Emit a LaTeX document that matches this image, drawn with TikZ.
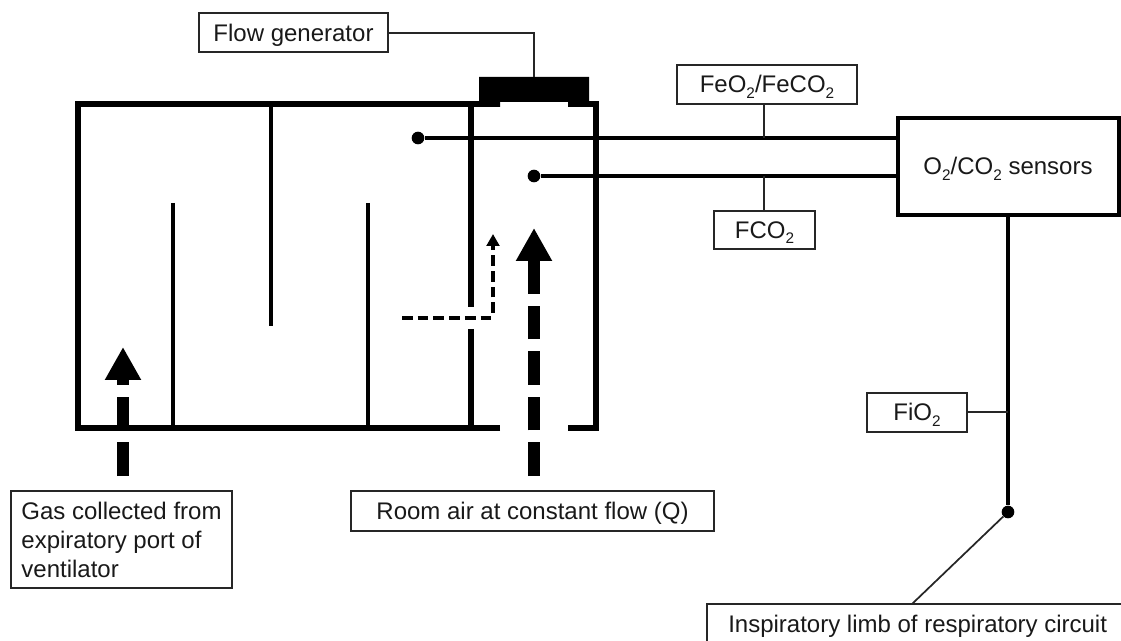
\documentclass[tikz,border=0pt]{standalone}
\usepackage{fontspec}
\setmainfont{Liberation Sans}
\usetikzlibrary{arrows.meta}
\newcommand{\lowtwo}{\raisebox{-0.22em}{\fontsize{11.5}{12}\selectfont 2}}
\tikzset{
  labelbox/.style={draw=black!85,line width=1.5pt,inner sep=0pt,outer sep=0pt,anchor=north west,align=center,
    font=\fontsize{18}{21.75}\selectfont,text=black!90,text height=15pt,text depth=2.55pt},
  wall/.style={line width=4.2pt},
  baffle/.style={line width=3pt},
  sensorline/.style={line width=2.6pt},
  thinlink/.style={line width=1.3pt,draw=black!85},
  dotnode/.style={circle,fill=black,inner sep=0pt,minimum size=9.5pt},
  bigflow/.style={line width=8.8pt,dash pattern=on 25.2pt off 9pt},
  smallflow/.style={line width=3pt,dash pattern=on 8pt off 3.8pt},
}
\begin{document}
\begin{tikzpicture}[x=0.75pt,y=-0.75pt]
\useasboundingbox (0,0) rectangle (1121,641);
% chamber corners
\coordinate (tl) at (78,104);
\coordinate (tr) at (596,104);
\coordinate (bl) at (78,428);
\coordinate (br) at (596,428);
\coordinate (gapl) at (500,428);
\coordinate (gapr) at (568,428);
\coordinate (capl) at (481,104);
\coordinate (capr) at (587,104);
% flow generator cap
\fill[black] (479,77) -- (589,77) -- (589,107) -- (568,107) -- (568,102) -- (500,102) -- (500,107) -- (479,107) -- cycle;
\coordinate (capt) at (534,77);
% chamber walls
\draw[wall,line join=miter] (gapl) -- (bl) -- (tl) -- (capl);
\draw[wall,line join=miter] (capr) -- (tr) -- (br) -- (gapr);
\draw[wall] (471,104) -- (471,307);
\draw[wall] (471,329) -- (471,428);
% baffles
\draw[baffle] (173,203) -- (173,428);
\draw[baffle] (271,104) -- (271,326);
\draw[baffle] (368,203) -- (368,428);
% boxes
\node[labelbox,minimum width=141.75pt,minimum height=29.25pt,text height=16.7pt] (flow) at (199,13) {Flow generator};
\node[labelbox,minimum width=135pt,minimum height=29.25pt] (feo) at (677,65) {FeO\lowtwo/FeCO\lowtwo};
\node[labelbox,minimum width=75.75pt,minimum height=28.5pt] (fco) at (714,211) {FCO\lowtwo};
\node[labelbox,minimum width=75pt,minimum height=29.25pt] (fio) at (867,393) {FiO\lowtwo};
\node[labelbox,draw=black,line width=3pt,minimum width=165.75pt,minimum height=72.75pt] (sensors) at (897.5,118) {O\lowtwo/CO\lowtwo{} sensors};
\node[labelbox,minimum width=165.75pt,minimum height=72.75pt,align=left,text height=,text depth=] (gas) at (11,491) {Gas collected from\\expiratory port of\\ventilator};
\node[labelbox,minimum width=272.25pt,minimum height=30pt] (room) at (351,491) {Room air at constant flow (Q)};
\draw[thinlink] (1121,604) -- (707,604) -- (707,645);
\node[anchor=base west,font=\fontsize{18}{21.75}\selectfont,text=black!90,inner sep=0pt] (limb) at (728,632) {Inspiratory limb of respiratory circuit};
\coordinate (limbtop) at (912,604);
% dots and sensor lines
\node[dotnode] (d1) at (418,138) {};
\node[dotnode] (d2) at (534,176) {};
\node[dotnode] (d3) at (1008,512) {};
\draw[sensorline] (d1) -- (d1 -| sensors.west);
\draw[sensorline] (d2) -- (d2 -| sensors.west);
\draw[line width=3pt] (sensors.south -| d3) -- (d3);
% thin links
\draw[thinlink] (flow.east |- 0,33) -| (capt);
\coordinate (j1) at (764,138);
\coordinate (j2) at (764,176);
\coordinate (j3) at (1008,412);
\draw[thinlink] (feo.south -| j1) -- (j1);
\draw[thinlink] (fco.north -| j2) -- (j2);
\draw[thinlink] (fio.east |- j3) -- (j3);
\draw[thinlink] (d3) -- (limbtop);
% flow arrows
\coordinate (a1s) at (123,476);
\coordinate (a1e) at (123,347);
\coordinate (a2s) at (534,476);
\coordinate (a2e) at (534,228);
\draw[bigflow,-{Triangle[length=24.75pt,width=25.5pt]}] (a1s) -- (a1e);
\draw[bigflow,-{Triangle[length=24.75pt,width=25.5pt]}] (a2s) -- (a2e);
\coordinate (c1) at (402,318);
\coordinate (c2) at (495,318);
\coordinate (c3) at (493,313);
\coordinate (c4) at (493,234);
\draw[smallflow] (c1) -- (c2);
\draw[smallflow,-{Triangle[length=9pt,width=9.5pt]}] (c3) -- (c4);
\end{tikzpicture}
\end{document}
